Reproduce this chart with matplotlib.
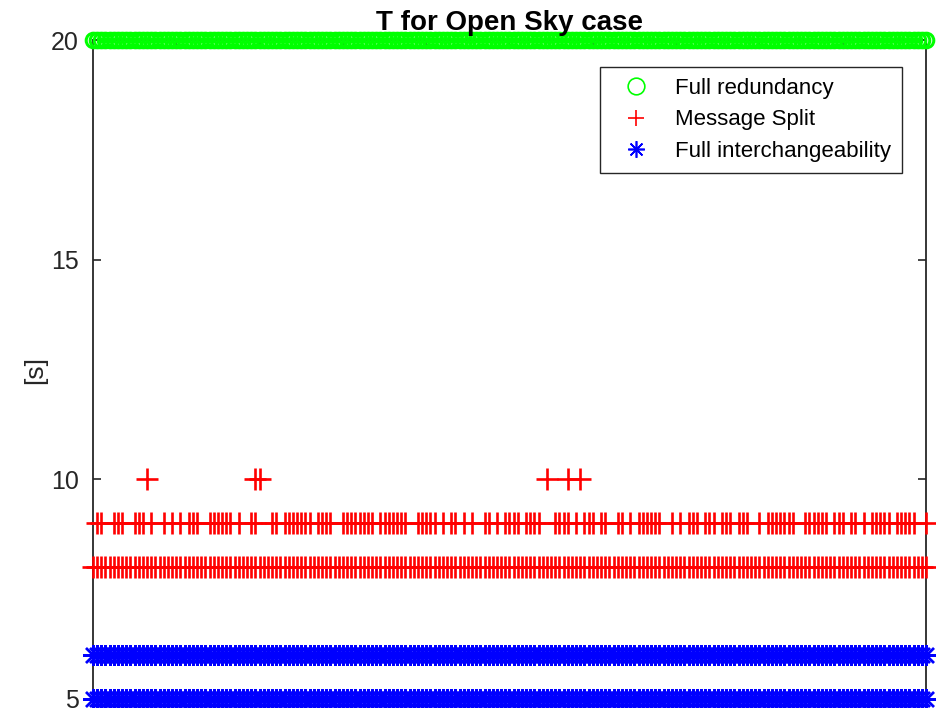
import numpy as np
import matplotlib
matplotlib.use("Agg")
import matplotlib.pyplot as plt

plt.rcParams['font.family'] = ['Liberation Sans', 'DejaVu Sans']

# ---------------- data ----------------
scenario = np.arange(0, 201)                 # scenario index (x axis, 0..200)
full_redundancy_level = 20                    # every scenario at 20 s
full_interchangeability_levels = [5, 6]       # every scenario at both 5 s and 6 s
message_split_base_level = 8                  # every scenario at 8 s
message_split_9_x = [1, 2, 5, 6, 7, 10, 11, 12, 14, 17, 19, 21, 23, 24, 25, 28, 29, 30, 31, 32,
                     33, 35, 38, 39, 43, 44, 46, 47, 48, 49, 50, 51, 52, 54, 55, 56, 57, 60, 61,
                     62, 63, 64, 65, 66, 67, 69, 70, 71, 72, 73, 74, 75, 78, 79, 80, 81, 82, 84,
                     86, 87, 89, 91, 94, 95, 97, 99, 100, 101, 102, 104, 105, 106, 107, 111, 112,
                     113, 114, 116, 118, 119, 120, 122, 123, 126, 127, 129, 131, 132, 133, 134,
                     135, 136, 139, 141, 143, 144, 145, 147, 148, 149, 151, 152, 153, 155, 156,
                     157, 160, 162, 163, 164, 165, 166, 167, 168, 171, 172, 173, 174, 175, 176,
                     178, 179, 180, 182, 183, 185, 187, 188, 189, 190, 191, 193, 194, 195, 196,
                     197, 200]
message_split_10_x = [13, 39, 40, 109, 114, 117]

title = "T for Open Sky case"
ylabel = "[s]"
legend_labels = ["Full redundancy", "Message Split", "Full interchangeability"]
yticks = [5, 10, 15, 20]
xticks = [20, 40, 60, 80, 100, 120, 140, 160, 180]

# ---------------- figure ----------------
fig = plt.figure(figsize=(9.36, 7.08), dpi=100)
ax = fig.add_axes([93 / 936, 1 - 699 / 708, 833 / 936, 659 / 708])

n = len(scenario)
fr_y = np.full(n, full_redundancy_level)
ms_x = np.concatenate([scenario, message_split_9_x, message_split_10_x])
ms_y = np.concatenate([np.full(n, message_split_base_level),
                       np.full(len(message_split_9_x), 9),
                       np.full(len(message_split_10_x), 10)])
fi_x = np.concatenate([scenario for _ in full_interchangeability_levels])
fi_y = np.concatenate([np.full(n, lv) for lv in full_interchangeability_levels])

ax.plot(scenario, fr_y, linestyle='none', marker='o', markersize=10.5,
        markerfacecolor='none', markeredgecolor=(0, 1, 0), markeredgewidth=2.2,
        clip_on=False, zorder=3, label=legend_labels[0])
ax.plot(ms_x, ms_y, linestyle='none', marker='+', markersize=15.5,
        markeredgecolor=(1, 0, 0), markeredgewidth=1.9,
        clip_on=False, zorder=3, label=legend_labels[1])
ax.plot(fi_x, fi_y, linestyle='none', marker=(8, 2, 0), markersize=15,
        markeredgecolor=(0, 0, 1), markeredgewidth=1.7,
        clip_on=False, zorder=3, label=legend_labels[2])

ax.set_xlim(0, 200)
ax.set_ylim(5, 20)
ax.set_yticks(yticks)
ax.set_xticks(xticks)
ax.tick_params(axis='both', direction='in', top=True, right=True, bottom=True, left=True,
               length=6, width=1.2, color='#262626', labelsize=18, labelcolor='#262626',
               labelbottom=False, pad=10)
for sp in ax.spines.values():
    sp.set_color('#262626')
    sp.set_linewidth(1.3)

ax.set_title(title, fontsize=20, fontweight='bold', pad=7)
ax.set_ylabel(ylabel, fontsize=19, color='#262626', labelpad=3)

leg = ax.legend(loc='upper right', bbox_to_anchor=(902 / 936, 1 - 67 / 708),
                bbox_transform=fig.transFigure, fontsize=16, numpoints=1,
                frameon=True, fancybox=False, edgecolor='#262626', framealpha=1,
                borderpad=0.5, handlelength=2.2, handletextpad=0.65, labelspacing=0.46,
                borderaxespad=0)
leg.get_frame().set_linewidth(1.0)
for h in leg.legend_handles:
    h.set_markersize(12)
    h.set_markeredgewidth(1.2)

fig.savefig("out.png", dpi=100)
